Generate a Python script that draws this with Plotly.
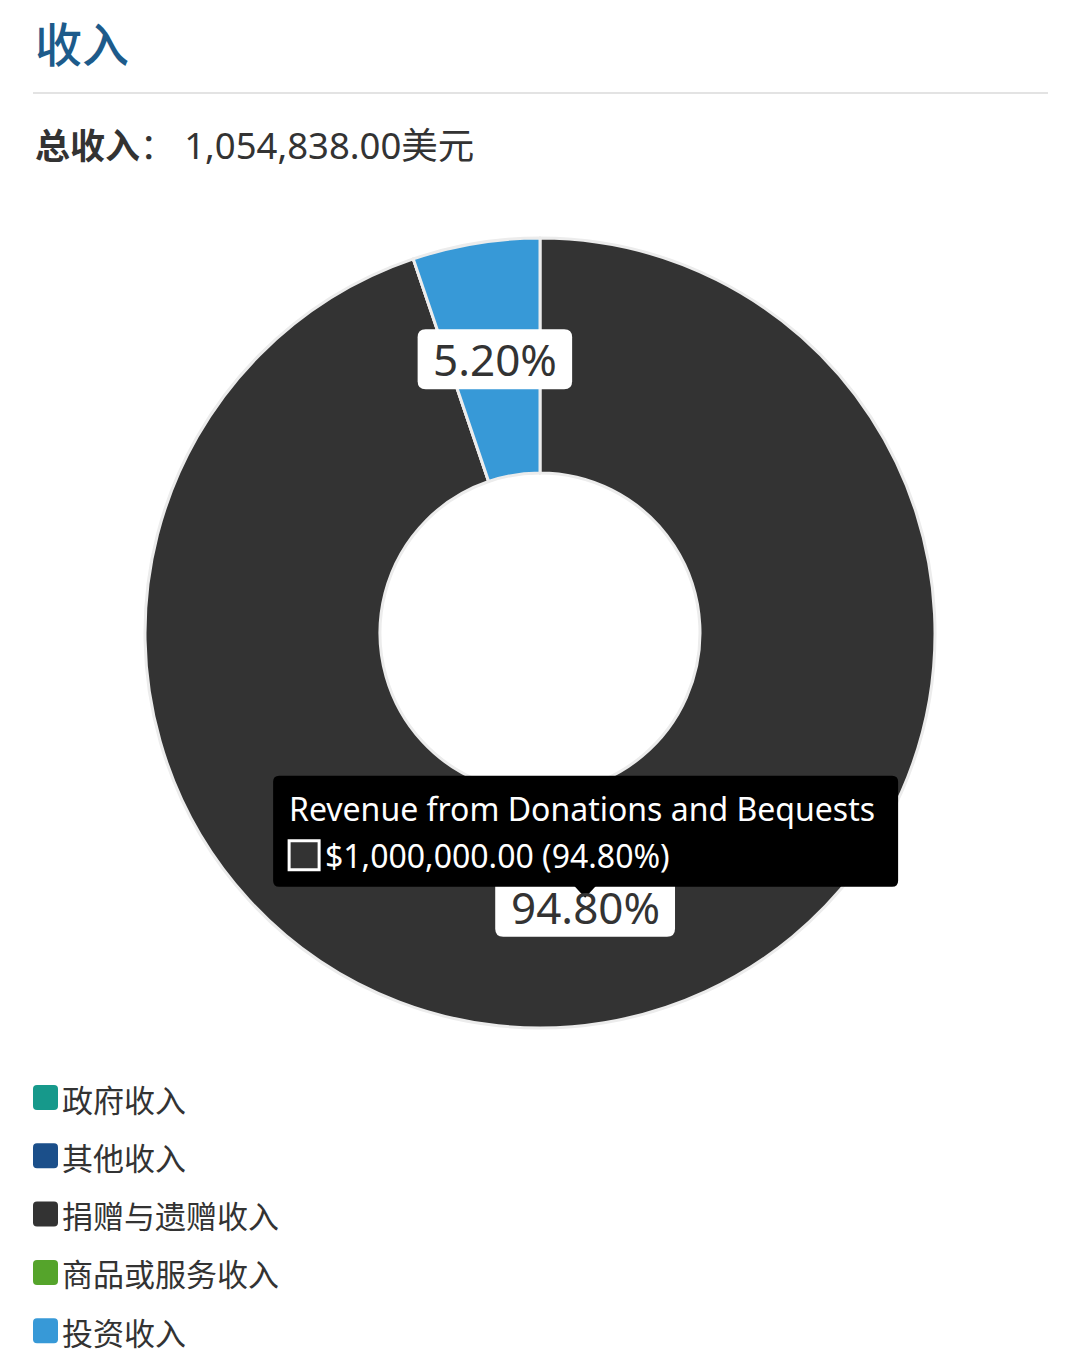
import math
import plotly.graph_objects as go

# ---------------- data ----------------
categories = ["政府收入", "其他收入", "捐赠与遗赠收入", "商品或服务收入", "投资收入"]
categories_en = ["Revenue from Government", "Other Revenue", "Revenue from Donations and Bequests",
                 "Revenue from Goods or Services", "Revenue from Investments"]
values = [0, 0, 1000000.00, 0, 54838.00]
colors = ["#16998b", "#1b4f8a", "#333333", "#55a42b", "#3799d7"]
total_label = "1,054,838.00美元"
hover_index = 2

W, H = 1080, 1360
FONT = "Noto Sans, Noto Sans CJK SC, sans-serif"
CJK = "Noto Sans CJK SC, Noto Sans, sans-serif"


def px(x):
    return x / W


def py(y):
    return 1 - y / H


# donut geometry (pixels)
cx, cy, R, r_in = 540, 633, 395, 160

fig = go.Figure()
fig.add_trace(go.Pie(
    labels=categories,
    values=values,
    sort=False,
    direction="clockwise",
    rotation=0,
    hole=r_in / R,
    marker=dict(colors=colors, line=dict(color="#ececec", width=3)),
    textinfo="none",
    showlegend=False,
    domain=dict(x=[px(cx - R), px(cx + R)], y=[py(cy + R), py(cy - R)]),
    hoverinfo="skip",
))

annotations = []
shapes = []

# title
annotations.append(dict(x=px(33), y=py(41), xref="paper", yref="paper", xanchor="left", yanchor="middle",
                        text="收入", showarrow=False,
                        font=dict(family=CJK, size=47, color="#1d5b8b", weight=500)))
shapes.append(dict(type="line", xref="paper", yref="paper", x0=px(33), x1=px(1048), y0=py(93), y1=py(93),
                   line=dict(color="#e3e3e3", width=2)))
annotations.append(dict(x=px(33), y=py(145), xref="paper", yref="paper", xanchor="left", yanchor="middle",
                        text="<b>总收入</b>： <span style='font-size:36.5px'>" + total_label + "</span>",
                        showarrow=False,
                        font=dict(family=FONT, size=35, color="#333333")))


def rounded_rect(x0, y0, x1, y1, rad):
    # pixel coords -> paper path with rounded corners
    pts = []
    pts.append(f"M {px(x0 + rad)},{py(y0)}")
    pts.append(f"L {px(x1 - rad)},{py(y0)}")
    pts.append(f"Q {px(x1)},{py(y0)} {px(x1)},{py(y0 + rad)}")
    pts.append(f"L {px(x1)},{py(y1 - rad)}")
    pts.append(f"Q {px(x1)},{py(y1)} {px(x1 - rad)},{py(y1)}")
    pts.append(f"L {px(x0 + rad)},{py(y1)}")
    pts.append(f"Q {px(x0)},{py(y1)} {px(x0)},{py(y1 - rad)}")
    pts.append(f"L {px(x0)},{py(y0 + rad)}")
    pts.append(f"Q {px(x0)},{py(y0)} {px(x0 + rad)},{py(y0)}")
    pts.append("Z")
    return " ".join(pts)


# percentage labels at mid-angle of each slice
tot = sum(values)
r_mid = (R + r_in) / 2
cum = 0.0
label_pos = {}
for i, v in enumerate(values):
    if v <= 0:
        continue
    a0 = cum / tot * 360
    cum += v
    a1 = cum / tot * 360
    mid = math.radians((a0 + a1) / 2)
    lx = cx + r_mid * math.sin(mid)
    ly = cy - r_mid * math.cos(mid)
    label_pos[i] = (lx, ly)
    txt = f"{v / tot * 100:.2f}%"
    bw = 28 + 25.3 * len(txt)
    shapes.append(dict(type="path", xref="paper", yref="paper",
                       path=rounded_rect(lx - bw / 2, ly - 30, lx + bw / 2, ly + 30, 8),
                       fillcolor="white", line=dict(width=0), layer="above"))
    annotations.append(dict(x=px(lx), y=py(ly), xref="paper", yref="paper", text=txt, showarrow=False,
                            xanchor="center", yanchor="middle",
                            font=dict(family=FONT, size=44, color="#333333")))

# tooltip (hovered donation slice)
hx, hy = label_pos[hover_index]
tip_x0, tip_x1, tip_y0, tip_y1 = hx - 312, hx + 313, hy - 131, hy - 20
shapes.append(dict(type="path", xref="paper", yref="paper",
                   path=rounded_rect(tip_x0, tip_y0, tip_x1, tip_y1, 6),
                   fillcolor="black", line=dict(width=0), layer="above"))
shapes.append(dict(type="path", xref="paper", yref="paper",
                   path=f"M {px(hx - 11)},{py(tip_y1 - 1)} L {px(hx + 11)},{py(tip_y1 - 1)} L {px(hx)},{py(tip_y1 + 11)} Z",
                   fillcolor="black", line=dict(width=0), layer="above"))
shapes.append(dict(type="rect", xref="paper", yref="paper",
                   x0=px(tip_x0 + 16), x1=px(tip_x0 + 46), y0=py(hy - 66), y1=py(hy - 37),
                   fillcolor=colors[hover_index], line=dict(color="white", width=3), layer="above"))
annotations.append(dict(x=px(tip_x0 + 14), y=py(hy - 98), xref="paper", yref="paper", xanchor="left",
                        yanchor="middle", text=categories_en[hover_index], showarrow=False,
                        font=dict(family=FONT, size=32, color="white")))
annotations.append(dict(x=px(tip_x0 + 50), y=py(hy - 51), xref="paper", yref="paper", xanchor="left",
                        yanchor="middle",
                        text=f"${values[hover_index]:,.2f} ({values[hover_index] / tot * 100:.2f}%)",
                        showarrow=False, font=dict(family=FONT, size=32, color="white")))

# legend
leg_y0, leg_dy = 1098, 58.3
for i, name in enumerate(categories):
    yy = leg_y0 + i * leg_dy
    shapes.append(dict(type="path", xref="paper", yref="paper",
                       path=rounded_rect(33, yy - 13, 58, yy + 12, 4),
                       fillcolor=colors[i], line=dict(width=0)))
    annotations.append(dict(x=px(60), y=py(yy), xref="paper", yref="paper", xanchor="left", yanchor="middle",
                            text=name, showarrow=False, font=dict(family=CJK, size=31, color="#333333")))

fig.update_layout(
    width=W, height=H,
    margin=dict(l=0, r=0, t=0, b=0),
    paper_bgcolor="white", plot_bgcolor="white",
    annotations=annotations, shapes=shapes,
    showlegend=False,
)

fig.write_html("out.html", config={"displayModeBar": False},
               post_script="document.body.style.margin='0px';")
